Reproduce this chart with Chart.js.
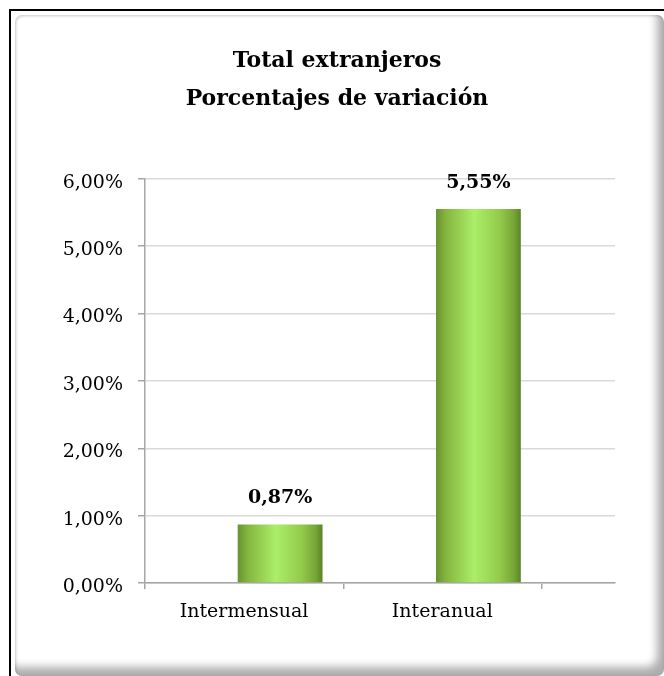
<!DOCTYPE html>
<html lang="es">
<head>
<meta charset="utf-8">
<title>Total extranjeros - Porcentajes de variación</title>
<script src="https://cdn.jsdelivr.net/npm/chart.js@4.4.1/dist/chart.umd.min.js"></script>
<style>
    html, body { margin: 0; padding: 0; background: #fff; }
    body { width: 664px; height: 676px; position: relative; overflow: hidden; }
    .marco {
        position: absolute; left: 9px; top: 9px;
        width: 700px; height: 700px;
        border: 2px solid #000;
    }
    .panel {
        position: absolute; left: 15px; top: 15px;
        width: 649px; height: 661px;
        border-radius: 7px;
        background: #fff;
        box-shadow: inset -10px -12px 9px -3px rgba(0, 0, 0, 0.32),
                    inset 1px 1px 3px rgba(0, 0, 0, 0.22);
    }
    .lienzo {
        position: absolute; left: 2px; top: 2px;
        width: 637px; height: 647px;
    }
</style>
</head>
<body>
<div class="marco"></div>
<div class="panel">
    <div class="lienzo"><canvas id="grafico"></canvas></div>
</div>
<script>
// Datos del gráfico
const categorias = ['Intermensual', 'Interanual'];
const variaciones = [0.87, 5.55];
const tituloLineas = ['Total extranjeros', 'Porcentajes de variación'];
const ticksY = [0, 1, 2, 3, 4, 5, 6];

const fuente = "'DejaVu Serif', 'Liberation Serif', serif";
const gris = '#a6a6a6';

// Formato español: 0,87%
function formatoPorcentaje(v) {
    return v.toFixed(2).replace('.', ',') + '%';
}

// Degradado verde tipo cilindro para cada barra
const sombreadoBarras = {
    id: 'sombreadoBarras',
    beforeDatasetDraw(chart, args) {
        const ctx = chart.ctx;
        args.meta.data.forEach(bar => {
            if (!bar.width) return;
            const x0 = bar.x - bar.width / 2;
            const g = ctx.createLinearGradient(x0, 0, x0 + bar.width, 0);
            g.addColorStop(0, '#68922f');
            g.addColorStop(0.12, '#84b63f');
            g.addColorStop(0.45, '#abee68');
            g.addColorStop(0.75, '#93cb4b');
            g.addColorStop(0.92, '#76a536');
            g.addColorStop(1, '#5a8428');
            // copia propia: las opciones resueltas se comparten entre barras
            bar.options = Object.assign({}, bar.options, { backgroundColor: g });
        });
    }
};

// Etiquetas de valor encima de las barras
const etiquetasValor = {
    id: 'etiquetasValor',
    afterDatasetsDraw(chart) {
        const ctx = chart.ctx;
        const meta = chart.getDatasetMeta(1);
        ctx.save();
        ctx.font = 'bold 19px ' + fuente;
        ctx.fillStyle = '#000';
        ctx.textAlign = 'center';
        ctx.textBaseline = 'alphabetic';
        meta.data.forEach((bar, i) => {
            ctx.fillText(formatoPorcentaje(variaciones[i]), bar.x, bar.y - 21);
        });
        ctx.restore();
    }
};

const limites = categorias.map((c, i) => i - 0.5).concat(categorias.length - 0.5);

new Chart(document.getElementById('grafico'), {
    type: 'bar',
    data: {
        datasets: [
            {
                // serie vacía: desplaza la barra a la derecha como en el original
                data: categorias.map((c, i) => ({ x: i, y: null })),
                backgroundColor: 'transparent'
            },
            {
                data: categorias.map((c, i) => ({ x: i, y: variaciones[i] })),
                backgroundColor: '#93cb4b',
                borderWidth: 0
            }
        ]
    },
    options: {
        responsive: true,
        maintainAspectRatio: false,
        animation: false,
        events: [],
        categoryPercentage: 0.725,
        barPercentage: 1.18,
        // el relleno izquierdo centra el título sobre el panel
        layout: { padding: { left: 42, right: 39, top: 0, bottom: 0 } },
        plugins: {
            legend: { display: false },
            tooltip: { enabled: false },
            title: {
                display: true,
                text: tituloLineas,
                color: '#000',
                font: { family: fuente, size: 22, weight: 'bold', lineHeight: 1.7 },
                padding: { top: 26, bottom: 61 }
            }
        },
        scales: {
            x: {
                type: 'linear',
                offset: false,
                min: -0.5,
                max: 1.87,
                afterBuildTicks: s => { s.ticks = limites.map(v => ({ value: v })); },
                afterFit: s => { s.height = 81; },
                grid: { offset: false, drawOnChartArea: false, color: gris, lineWidth: 1.5, tickLength: 6 },
                border: { color: gris, width: 1.5 },
                ticks: {
                    color: '#000',
                    font: { family: fuente, size: 19 },
                    padding: 12,
                    labelOffset: 99,
                    autoSkip: false,
                    maxRotation: 0,
                    callback: (v, i) => categorias[i] || ''
                }
            },
            y: {
                min: ticksY[0],
                max: ticksY[ticksY.length - 1],
                afterBuildTicks: s => { s.ticks = ticksY.map(v => ({ value: v })); },
                afterFit: s => { s.width = 86; },
                grid: { color: '#d9d9d9', lineWidth: 1.5, tickColor: gris, tickLength: 7 },
                border: { color: gris, width: 1.5 },
                ticks: {
                    color: '#000',
                    font: { family: fuente, size: 19 },
                    padding: 15,
                    labelOffset: 4,
                    callback: v => formatoPorcentaje(v)
                }
            }
        }
    },
    plugins: [sombreadoBarras, etiquetasValor]
});
</script>
</body>
</html>
